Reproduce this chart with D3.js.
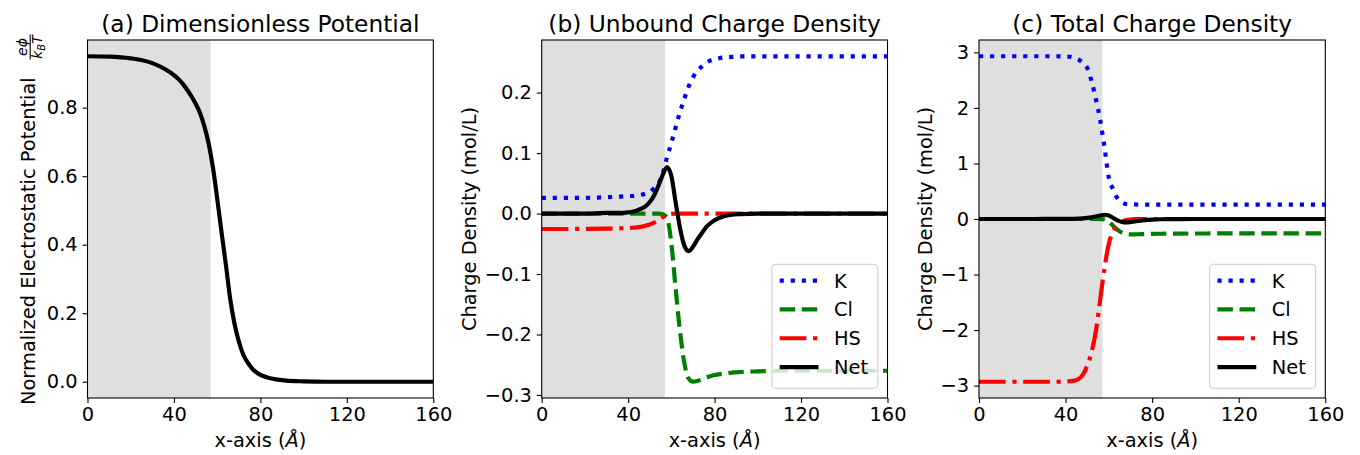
<!DOCTYPE html>
<html>
<head>
<meta charset="utf-8">
<script src="https://cdn.jsdelivr.net/npm/d3@7"></script>
<style>
  body { margin: 0; background: #fff; }
  svg text { font-family: "DejaVu Sans", sans-serif; fill: #000; }
</style>
</head>
<body>
<svg id="chart" width="1360" height="455"></svg>
<script>
// ---------------- data ----------------
const xGrid = [0,10,20,30,36,40,42,44,46,48,50,52,54,56,58,60,62,64,66,68,70,72,74,76,78,80,84,88,92,100,110,120,140,160];

const potential = [0.950,0.949,0.944,0.930,0.912,0.895,0.884,0.870,0.853,0.834,0.812,0.785,0.747,0.697,0.627,0.535,0.437,0.343,0.243,0.170,0.118,0.080,0.057,0.040,0.028,0.020,0.011,0.006,0.003,0.001,0,0,0,0];

const kUnbound = [0.026,0.026,0.026,0.027,0.028,0.029,0.029,0.030,0.031,0.033,0.036,0.042,0.050,0.067,0.093,0.117,0.143,0.168,0.190,0.210,0.225,0.236,0.243,0.249,0.253,0.255,0.258,0.259,0.260,0.260,0.260,0.260,0.260,0.260];
const clValues = [0,0,0,0,0,0,0,0,0,0,0,0,0,-0.001,-0.007,-0.050,-0.125,-0.195,-0.247,-0.273,-0.278,-0.277,-0.274,-0.271,-0.269,-0.267,-0.265,-0.263,-0.262,-0.261,-0.260,-0.260,-0.260,-0.260];
const hsUnbound = [-0.0255,-0.0255,-0.0253,-0.025,-0.0245,-0.024,-0.0235,-0.023,-0.022,-0.020,-0.018,-0.015,-0.011,-0.006,-0.002,-0.0005,0,0,0,0,0,0,0,0,0,0,0,0,0,0,0,0,0,0];
const netValues = [0,0,0,0.001,0.001,0.002,0.003,0.005,0.008,0.012,0.019,0.030,0.046,0.064,0.077,0.062,0.018,-0.024,-0.053,-0.062,-0.055,-0.043,-0.033,-0.023,-0.016,-0.011,-0.005,-0.002,-0.001,0,0,0,0,0];

const kTotal = [2.93,2.93,2.93,2.93,2.93,2.925,2.92,2.90,2.87,2.81,2.72,2.48,2.16,1.78,1.28,0.74,0.53,0.37,0.30,0.27,0.265,0.262,0.26,0.26,0.26,0.26,0.26,0.26,0.26,0.26,0.26,0.26,0.26,0.26];
const hsTotal = [-2.93,-2.93,-2.93,-2.93,-2.93,-2.925,-2.92,-2.91,-2.88,-2.80,-2.64,-2.40,-2.02,-1.45,-0.88,-0.44,-0.22,-0.10,-0.05,-0.02,-0.01,0,0,0,0,0,0,0,0,0,0,0,0,0];

const xTicks = [0,40,80,120,160];
const yTicksA = [0.0,0.2,0.4,0.6,0.8];
const yTicksB = [0.2,0.1,0.0,-0.1,-0.2,-0.3];
const yTicksC = [3,2,1,0,-1,-2,-3];
const legendLabels = ["K","Cl","HS","Net"];
const shadedRange = [0, 57];
const titles = ["(a) Dimensionless Potential","(b) Unbound Charge Density","(c) Total Charge Density"];

// ---------------- layout ----------------
const FS = 19.4, TFS = 23.3, LW = 4.17;
const axTop = 40, axBottom = 398;
const svg = d3.select("#chart");

const styles = {
  K:   {color:"#0000ff", dash:[LW*1, LW*1.65]},
  Cl:  {color:"#008000", dash:[LW*3.7, LW*1.6]},
  HS:  {color:"#ff0000", dash:[LW*6.4, LW*1.6, LW*1, LW*1.6]},
  Net: {color:"#000000", dash:null}
};

const panels = [
  {left:87.5, right:433.3, yDomain:[-0.0475,0.9975], yTicks:yTicksA, fmt:d3.format(".1f"),
   series:[{name:"phi", vals:potential, color:"#000", dash:null}], legend:false},
  {left:541.7, right:887.5, yDomain:[-0.3050,0.2870], yTicks:yTicksB, fmt:d3.format(".1f"),
   series:[{name:"K",vals:kUnbound},{name:"Cl",vals:clValues},{name:"HS",vals:hsUnbound},{name:"Net",vals:netValues}],
   legend:true, ylabX:476},
  {left:979, right:1325.3, yDomain:[-3.2225,3.2225], yTicks:yTicksC, fmt:d3.format("d"),
   series:[{name:"K",vals:kTotal},{name:"Cl",vals:clValues},{name:"HS",vals:hsTotal},{name:"Net",vals:netValues}],
   legend:true, ylabX:932}
];

panels.forEach((p, i) => {
  const x = d3.scaleLinear().domain([0,160]).range([p.left, p.right]);
  const y = d3.scaleLinear().domain(p.yDomain).range([axBottom, axTop]);
  const g = svg.append("g");

  const clipId = "clip" + i;
  svg.append("clipPath").attr("id", clipId).append("rect")
    .attr("x", p.left).attr("y", axTop).attr("width", p.right - p.left).attr("height", axBottom - axTop);

  // shaded region
  g.append("rect")
    .attr("x", x(shadedRange[0])).attr("y", axTop)
    .attr("width", x(shadedRange[1]) - x(shadedRange[0])).attr("height", axBottom - axTop)
    .attr("fill", "#dfdfdf");

  // lines
  const line = d3.line().x(d => x(d[0])).y(d => y(d[1])).curve(d3.curveMonotoneX);
  p.series.forEach(s => {
    const st = styles[s.name] || {color:s.color, dash:s.dash};
    const data = xGrid.map((xv, k) => [xv, s.vals[k]]);
    g.append("path").datum(data)
      .attr("clip-path", `url(#${clipId})`)
      .attr("d", line)
      .attr("fill", "none")
      .attr("stroke", st.color)
      .attr("stroke-width", LW)
      .attr("stroke-linecap", "butt")
      .attr("stroke-linejoin", "round")
      .attr("stroke-dasharray", st.dash ? st.dash.join(",") : null);
  });

  // axes
  const xAxis = d3.axisBottom(x).tickValues(xTicks).tickSize(4.9).tickPadding(4.2).tickFormat(d3.format("d"));
  const gx = svg.append("g").attr("transform", `translate(0,${axBottom})`).call(xAxis);
  const yAxis = d3.axisLeft(y).tickValues(p.yTicks).tickSize(4.9).tickPadding(4.9).tickFormat(p.fmt);
  const gy = svg.append("g").attr("transform", `translate(${p.left},0)`).call(yAxis);
  [gx, gy].forEach(ga => {
    ga.select(".domain").remove();
    ga.selectAll(".tick line").attr("stroke", "#000").attr("stroke-width", 1.1);
    ga.selectAll(".tick text").attr("font-size", FS).attr("font-family", "DejaVu Sans").attr("fill", "#000");
  });

  // spines
  svg.append("rect").attr("x", p.left).attr("y", axTop)
    .attr("width", p.right - p.left).attr("height", axBottom - axTop)
    .attr("fill", "none").attr("stroke", "#000").attr("stroke-width", 1.1);

  // title
  svg.append("text").attr("x", (p.left + p.right) / 2).attr("y", 31.5)
    .attr("text-anchor", "middle").attr("font-size", TFS).text(titles[i]);

  // x label
  const xl = svg.append("text").attr("x", (p.left + p.right) / 2).attr("y", 446.5)
    .attr("text-anchor", "middle").attr("font-size", FS);
  xl.append("tspan").text("x-axis (");
  xl.append("tspan").attr("font-style", "italic").text("Å");
  xl.append("tspan").text(")");

  // y label
  if (i === 0) {
    const gl = svg.append("g").attr("transform", `translate(35,405) rotate(-90)`);
    gl.append("text").attr("x", 0).attr("y", 0).attr("font-size", FS)
      .text("Normalized Electrostatic Potential");
    const fc = 358; // fraction centre along label
    const fw = 25;
    gl.append("line").attr("x1", fc - fw/2).attr("x2", fc + fw/2)
      .attr("y1", -4.8).attr("y2", -4.8).attr("stroke", "#000").attr("stroke-width", 1.1);
    gl.append("text").attr("x", fc).attr("y", -8).attr("text-anchor", "middle")
      .attr("font-size", 14).attr("font-style", "italic").text("eϕ");
    const den = gl.append("text").attr("x", fc).attr("y", 7).attr("text-anchor", "middle")
      .attr("font-size", 14).attr("font-style", "italic");
    den.append("tspan").text("k");
    den.append("tspan").attr("font-size", 10).attr("dy", 2.5).text("B");
    den.append("tspan").attr("dy", -2.5).text("T");
  } else {
    svg.append("text")
      .attr("transform", `translate(${p.ylabX},${(axTop + axBottom) / 2}) rotate(-90)`)
      .attr("text-anchor", "middle").attr("font-size", FS)
      .text("Charge Density (mol/L)");
  }

  // legend
  if (p.legend) {
    const pad = 0.4 * FS, handle = 2 * FS, tpad = 0.8 * FS, rowH = 28.8;
    const lg = svg.append("g");
    const box = lg.append("rect");
    const texts = [];
    legendLabels.forEach((lab, k) => {
      const t = lg.append("text").attr("font-size", FS).text(lab);
      texts.push(t);
    });
    const maxW = d3.max(texts, t => t.node().getComputedTextLength());
    const w = pad + handle + tpad + maxW + pad + 2;
    const h = 4 * rowH + 2 * pad - 6.6;
    const bx = p.right - 0.5 * FS - w, by = axBottom - 0.5 * FS - h;
    box.attr("x", bx).attr("y", by).attr("width", w).attr("height", h)
      .attr("rx", 3.9).attr("ry", 3.9)
      .attr("fill", "#fff").attr("fill-opacity", 0.8)
      .attr("stroke", "#cccccc").attr("stroke-width", 1.1);
    legendLabels.forEach((lab, k) => {
      const cy = by + pad + 8.7 + k * rowH;
      const st = styles[lab];
      lg.append("line").attr("x1", bx + pad).attr("x2", bx + pad + handle)
        .attr("y1", cy).attr("y2", cy)
        .attr("stroke", st.color).attr("stroke-width", LW)
        .attr("stroke-dasharray", st.dash ? st.dash.join(",") : null);
      texts[k].attr("x", bx + pad + handle + tpad).attr("y", cy + 7);
    });
  }
});
</script>
</body>
</html>
